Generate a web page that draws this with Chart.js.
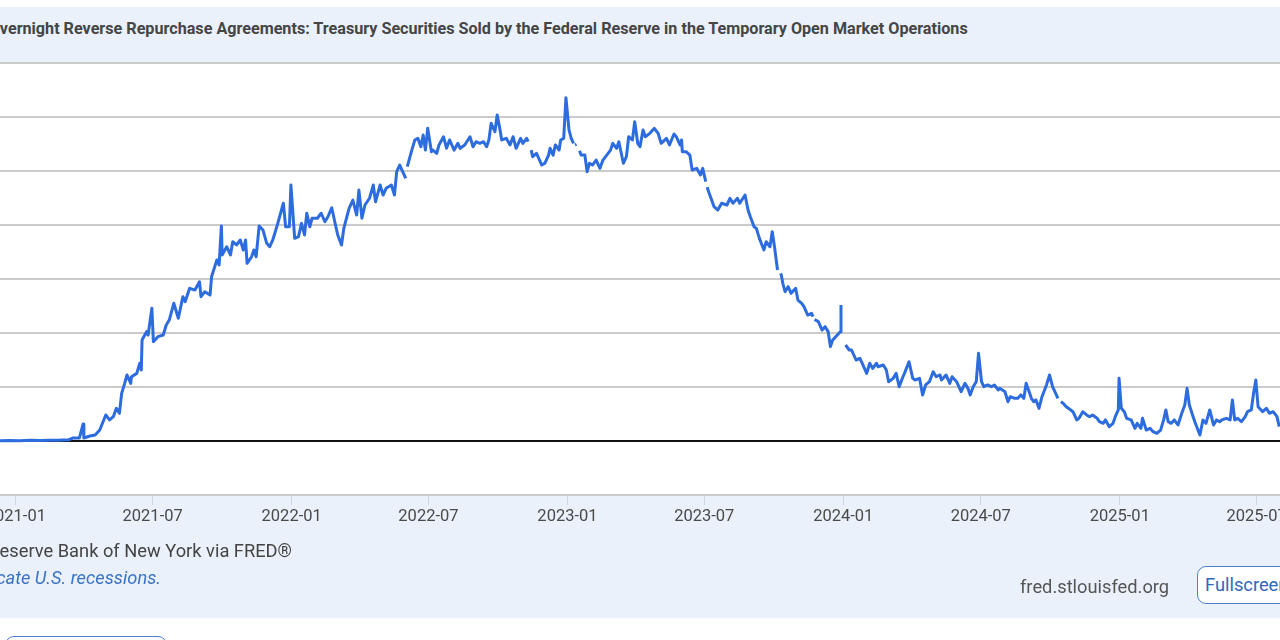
<!DOCTYPE html>
<html>
<head>
<meta charset="utf-8">
<title>RRPONTSYD</title>
<script src="https://cdn.jsdelivr.net/npm/chart.js@4.4.1/dist/chart.umd.min.js"></script>
<style>
  html, body { margin: 0; padding: 0; }
  body { width: 1280px; height: 640px; position: relative; overflow: hidden; background: #fff; font-family: Roboto, "Open Sans", sans-serif; }
  .band-title { position: absolute; left: 0; top: 7px; width: 1280px; height: 55px; background: #eaf1fa; border-bottom: 1px solid #cfcfcf; }
  #title { position: absolute; right: 312px; top: 11px; font-weight: bold; font-size: 17px; line-height: 20px; color: #454545; white-space: nowrap; transform-origin: right center; }
  #chart { position: absolute; left: 0; top: 62px; }
  .note { position: absolute; white-space: nowrap; font-size: 18.3px; line-height: 22px; color: #444; }
  #source { right: 988px; top: 540px; }
  #shaded { right: 1119px; top: 567px; font-style: italic; color: #3a73c4; }
  #fredurl { left: 1020px; top: 576px; color: #555; }
  #fullscreen { position: absolute; left: 1197px; top: 566px; width: 120px; height: 38px; border: 1px solid #4d80cf; border-radius: 9px; background: #fff; color: #2f68c0; font-size: 18.3px; line-height: 36px; padding-left: 7px; box-sizing: border-box; white-space: nowrap; }
  #bottombtn { position: absolute; left: 5px; top: 636px; width: 160px; height: 40px; border: 1px solid #4d80cf; border-radius: 9px; background: #fff; }
</style>
</head>
<body>
<div class="band-title"><span id="title">Overnight Reverse Repurchase Agreements: Treasury Securities Sold by the Federal Reserve in the Temporary Open Market Operations</span></div>
<canvas id="chart" width="1280" height="556"></canvas>
<div class="note" id="source">Source: Federal Reserve Bank of New York via FRED®</div>
<div class="note" id="shaded">Shaded areas indicate U.S. recessions.</div>
<div class="note" id="fredurl">fred.stlouisfed.org</div>
<div id="fullscreen">Fullscreen</div>
<div id="bottombtn"></div>
<script>
// Billions of US dollars, daily (null = missing day)
const obsDates = [
  "2020-12-11","2020-12-24","2021-01-06","2021-01-20","2021-02-02","2021-02-15","2021-02-26","2021-03-12",
  "2021-03-17","2021-03-26","2021-03-31","2021-04-01","2021-04-09","2021-04-16","2021-04-22","2021-04-30",
  "2021-05-05","2021-05-10","2021-05-14","2021-05-18","2021-05-21","2021-05-25","2021-05-28","2021-06-02",
  "2021-06-03","2021-06-10","2021-06-14","2021-06-16","2021-06-17","2021-06-23","2021-06-25","2021-06-30",
  "2021-07-02","2021-07-08","2021-07-15","2021-07-19","2021-07-23","2021-07-29","2021-08-04","2021-08-10",
  "2021-08-13","2021-08-19","2021-08-26","2021-09-01","2021-09-03","2021-09-08","2021-09-15","2021-09-17",
  "2021-09-24","2021-09-27","2021-09-30","2021-10-01","2021-10-07","2021-10-12","2021-10-15","2021-10-20",
  "2021-10-25","2021-10-29","2021-11-01","2021-11-03","2021-11-09","2021-11-12","2021-11-15","2021-11-19",
  "2021-11-24","2021-11-29","2021-12-03","2021-12-07","2021-12-13","2021-12-21","2021-12-24","2021-12-29",
  "2021-12-31",
  "2022-01-05","2022-01-10","2022-01-14","2022-01-18","2022-01-21","2022-01-25","2022-01-28","2022-02-04",
  "2022-02-09","2022-02-14","2022-02-18","2022-02-23","2022-02-28","2022-03-03","2022-03-08","2022-03-11",
  "2022-03-18","2022-03-23","2022-03-28","2022-03-31","2022-04-04","2022-04-08","2022-04-14","2022-04-19",
  "2022-04-22","2022-04-28","2022-05-02","2022-05-06","2022-05-13","2022-05-17","2022-05-20","2022-05-24",
  "2022-05-27","2022-06-01","2022-06-02","2022-06-03","2022-06-09","2022-06-13","2022-06-17","2022-06-21",
  "2022-06-24","2022-06-27","2022-06-30","2022-07-05","2022-07-07","2022-07-12","2022-07-15","2022-07-21",
  "2022-07-25","2022-07-29","2022-08-04","2022-08-09","2022-08-12","2022-08-18","2022-08-25","2022-08-29",
  "2022-09-02","2022-09-07","2022-09-12","2022-09-16","2022-09-19","2022-09-22","2022-09-27","2022-09-30",
  "2022-10-03","2022-10-06","2022-10-12","2022-10-17","2022-10-21","2022-10-25","2022-10-31","2022-11-03",
  "2022-11-08","2022-11-10","2022-11-11","2022-11-14","2022-11-16","2022-11-21","2022-11-23","2022-11-28",
  "2022-12-02","2022-12-07","2022-12-09","2022-12-13","2022-12-16","2022-12-21","2022-12-23","2022-12-27",
  "2022-12-30",
  "2023-01-03","2023-01-06","2023-01-09","2023-01-10","2023-01-11","2023-01-13","2023-01-16","2023-01-17",
  "2023-01-19","2023-01-24","2023-01-27","2023-01-30","2023-02-03","2023-02-08","2023-02-13","2023-02-17",
  "2023-02-22","2023-02-27","2023-03-02","2023-03-07","2023-03-10","2023-03-16","2023-03-20","2023-03-23",
  "2023-03-28","2023-03-31","2023-04-04","2023-04-07","2023-04-11","2023-04-14","2023-04-20","2023-04-26",
  "2023-05-01","2023-05-05","2023-05-12","2023-05-16","2023-05-22","2023-05-25","2023-05-30","2023-06-01",
  "2023-06-02","2023-06-07","2023-06-12","2023-06-15","2023-06-21","2023-06-26","2023-06-29","2023-07-03",
  "2023-07-04","2023-07-05","2023-07-06","2023-07-10","2023-07-14","2023-07-19","2023-07-24","2023-07-31",
  "2023-08-04","2023-08-08","2023-08-14","2023-08-17","2023-08-24","2023-08-28","2023-08-31","2023-09-05",
  "2023-09-08","2023-09-12","2023-09-18","2023-09-21","2023-09-26","2023-09-29","2023-10-02","2023-10-06",
  "2023-10-09","2023-10-10","2023-10-11","2023-10-13","2023-10-16","2023-10-20","2023-10-24","2023-10-30",
  "2023-11-02","2023-11-07","2023-11-10","2023-11-15","2023-11-20","2023-11-22","2023-11-23","2023-11-24",
  "2023-11-29","2023-12-04","2023-12-08","2023-12-12","2023-12-15","2023-12-18","2023-12-22","2023-12-26",
  "2023-12-28","2023-12-29",
  "2024-01-01","2024-01-04","2024-01-09","2024-01-12","2024-01-18","2024-01-23","2024-01-26","2024-02-01",
  "2024-02-05","2024-02-09","2024-02-14","2024-02-16","2024-02-23","2024-02-27","2024-03-01","2024-03-07",
  "2024-03-11","2024-03-15","2024-03-20","2024-03-22","2024-03-28","2024-04-02","2024-04-05","2024-04-11",
  "2024-04-15","2024-04-19","2024-04-24","2024-04-29","2024-05-03","2024-05-08","2024-05-10","2024-05-16",
  "2024-05-21","2024-05-24","2024-05-30","2024-06-05","2024-06-10","2024-06-14","2024-06-17","2024-06-21",
  "2024-06-25","2024-06-28","2024-07-02","2024-07-05","2024-07-10","2024-07-15","2024-07-19","2024-07-24",
  "2024-07-26","2024-08-02","2024-08-06","2024-08-09","2024-08-15","2024-08-19","2024-08-23","2024-08-27",
  "2024-08-30","2024-09-03","2024-09-06","2024-09-09","2024-09-12","2024-09-16","2024-09-20","2024-09-26",
  "2024-09-30","2024-10-04","2024-10-09","2024-10-11","2024-10-14","2024-10-15","2024-10-18","2024-10-22",
  "2024-10-25","2024-10-31","2024-11-05","2024-11-08","2024-11-13","2024-11-18","2024-11-22","2024-11-26",
  "2024-12-02","2024-12-05","2024-12-10","2024-12-13","2024-12-18","2024-12-23","2024-12-26","2024-12-30",
  "2024-12-31",
  "2025-01-03","2025-01-07","2025-01-10","2025-01-16","2025-01-21","2025-01-24","2025-01-29","2025-01-31",
  "2025-02-05","2025-02-10","2025-02-14","2025-02-19","2025-02-24","2025-02-28","2025-03-03","2025-03-06",
  "2025-03-10","2025-03-14","2025-03-19","2025-03-24","2025-03-28","2025-03-31","2025-04-03","2025-04-08",
  "2025-04-11","2025-04-17","2025-04-21","2025-04-25","2025-04-30","2025-05-05","2025-05-09","2025-05-13",
  "2025-05-16","2025-05-22","2025-05-27","2025-05-30","2025-06-02","2025-06-06","2025-06-11","2025-06-16",
  "2025-06-19","2025-06-24","2025-06-27","2025-06-30","2025-07-03","2025-07-09","2025-07-14","2025-07-18",
  "2025-07-23","2025-07-28","2025-07-31"
];

const rrpValues = [
  1, 4, 1, 6, 3, 6, 5, 9,
  22, 22, 126, 22, 37, 44, 81, 193,
  156, 180, 242, 205, 353, 427, 489, 427,
  476, 501, 576, 526, 748, 810, 785, 983,
  736, 773, 785, 859, 896, 1020, 909, 1069,
  1032, 1131, 1118, 1180, 1069, 1106, 1081, 1217,
  1341, 1304, 1593, 1378, 1439, 1378, 1476, 1452,
  1489, 1415, 1489, 1316, 1365, 1415, 1365, 1593,
  1563, 1464, 1439, 1489, 1600, 1761, 1587, 1587,
  1896,
  1501, 1513, 1612, 1526, 1687, 1587, 1650, 1650,
  1687, 1624, 1661, 1728, 1600, 1526, 1452, 1575,
  1724, 1785, 1674, 1859, 1650, 1748, 1798, 1896,
  1772, 1896, 1822, 1872, 1896, 1822, 1995, 2044,
  2007, 1946, null, 2032, 2155, 2230, 2242, 2180,
  2267, 2155, 2316, 2143, 2155, 2131, 2193, 2254,
  2168, 2230, 2155, 2205, 2168, 2193, 2254, 2180,
  2217, 2205, 2217, 2180, 2230, 2353, 2291, 2415,
  2328, 2230, 2242, 2193, 2254, 2168, 2242, 2205,
  2242, 2217, null, 2155, 2106, 2131, 2106, 2044,
  2057, 2118, 2168, 2118, 2193, 2155, 2230, 2242,
  2543,
  2304, 2242, 2205, null, 2193, 2198, null, 2150,
  2118, 2118, 1995, 2057, 2044, 2081, 2020, 2081,
  2118, 2155, 2205, 2168, 2217, 2057, 2106, 2254,
  2230, 2365, 2205, 2180, 2304, 2254, 2279, 2316,
  2279, 2205, 2242, 2193, 2274, 2254, 2193, 2230,
  2143, 2143, 2118, 2007, 2020, 1970, 2020, 1921,
  null, 1880, 1859, 1798, 1736, 1711, 1761, 1748,
  1798, 1761, 1798, 1761, 1822, 1711, 1661, 1587,
  1575, 1501, 1415, 1476, 1439, 1550, 1439, 1267,
  null, 1240, 1230, 1168, 1106, 1143, 1094, 1131,
  1044, 1020, 995, 933, 946, 921, null, 900,
  884, 822, 847, 810, 699, 748, 773, 797,
  810, 1007,
  null, 711, 674, 674, 600, 612, 576, 501,
  576, 538, 576, 550, 563, 526, 439, 464,
  501, 402, 476, 501, 587, 464, 452, 464,
  341, 415, 439, 513, 476, 489, 452, 489,
  427, 476, 439, 365, 427, 390, 341, 402,
  439, 650, 439, 402, 415, 402, 415, 378,
  390, 365, 291, 328, 316, 316, 341, 316,
  427, 365, 316, 291, 304, 242, 328, 415,
  489, 402, 341, 316, null, 290, 279, 254,
  242, 217, 156, 168, 217, 193, 180, 193,
  168, 143, 131, 156, 106, 131, 180, 230,
  464,
  242, 217, 168, 156, 94, 131, 94, 168,
  81, 94, 69, 57, 81, 156, 230, 143,
  131, 156, 119, 205, 267, 390, 267, 180,
  131, 44, 156, 131, 230, 119, 156, 143,
  156, 168, 156, 304, 156, 168, 143, 180,
  217, 230, 353, 452, 254, 217, 242, 205,
  217, 180, 106
];

const tickLabels = ["2021-01", "2021-07", "2022-01", "2022-07", "2023-01", "2023-07",
                    "2024-01", "2024-07", "2025-01", "2025-07"];
const xRange = ["2020-12-11", "2025-08-01"];
const yMin = -400, yMax = 2800, yStep = 400;

const BAND = "#eaf1fa";

const points = obsDates.map((d, i) => ({ x: Date.parse(d), y: rrpValues[i] }));
const tickValues = tickLabels.map(t => Date.parse(t + "-01"));

// light blue page background around the white plot area
const backdrop = {
  id: "backdrop",
  beforeDraw(chart) {
    const { ctx, chartArea: a, width, height } = chart;
    ctx.save();
    ctx.fillStyle = BAND;
    ctx.fillRect(0, 0, width, height);
    ctx.fillStyle = "#ffffff";
    ctx.fillRect(a.left, a.top, a.right - a.left, a.bottom - a.top);
    ctx.restore();
  }
};

new Chart(document.getElementById("chart"), {
  type: "line",
  data: {
    datasets: [{
      data: points,
      borderColor: "#2d6cdf",
      borderWidth: 3,
      pointRadius: 0,
      tension: 0,
      spanGaps: false,
      borderJoinStyle: "round"
    }]
  },
  options: {
    responsive: false,
    animation: false,
    layout: { padding: { top: 1, left: 0, right: 0, bottom: 0 } },
    plugins: { legend: { display: false }, tooltip: { enabled: false } },
    scales: {
      x: {
        type: "linear",
        min: Date.parse(xRange[0]),
        max: Date.parse(xRange[1]),
        afterBuildTicks: (s) => { s.ticks = tickValues.map(v => ({ value: v })); },
        afterFit: (s) => { s.height = 123; s.paddingLeft = 0; s.paddingRight = 0; },
        ticks: {
          autoSkip: false,
          maxRotation: 0,
          padding: 2,
          color: "#4a4a4a",
          font: { family: "Roboto", size: 16.5 },
          callback: (v) => {
            const i = tickValues.indexOf(v);
            return i >= 0 ? tickLabels[i] : "";
          }
        },
        grid: { drawOnChartArea: false, drawTicks: true, tickLength: 10, color: "#cdd6e0", lineWidth: 1 },
        border: { display: false }
      },
      y: {
        min: yMin,
        max: yMax,
        afterBuildTicks: (s) => {
          const t = [];
          for (let v = yMin; v <= yMax; v += yStep) t.push({ value: v });
          s.ticks = t;
        },
        afterFit: (s) => { s.width = 0; },
        ticks: { display: false },
        grid: {
          drawTicks: false,
          lineWidth: 2,
          color: (c) => (c.tick && c.tick.value === 0 ? "#111111" : "#cbcbcb")
        },
        border: { display: false }
      }
    }
  },
  plugins: [backdrop]
});

// squeeze the title to the condensed width of the original
const title = document.getElementById("title");
const natural = title.getBoundingClientRect().width;
title.style.transform = "scaleX(" + (979 / natural) + ")";
</script>
</body>
</html>
